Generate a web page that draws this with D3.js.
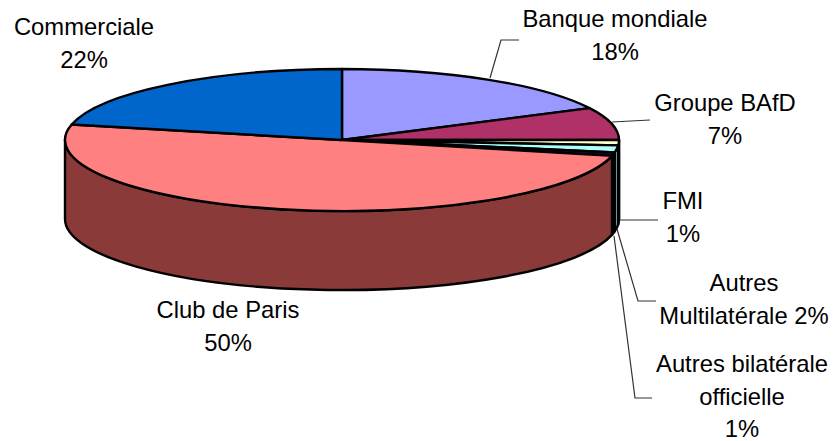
<!DOCTYPE html>
<html><head><meta charset="utf-8">
<script src="https://cdn.jsdelivr.net/npm/d3@7"></script>
<style>html,body{margin:0;padding:0;background:#fff}svg{display:block}text{font-family:"Liberation Sans",Arial,sans-serif;font-size:23.8px;fill:#000}</style>
</head><body><svg id="c" width="835" height="441"></svg>
<script>
const categories = ["Banque mondiale","Groupe BAfD","FMI","Autres Multilatérale","Autres bilatérale officielle","Club de Paris","Commerciale"];
const values = [17.6,7.4,1.2,1.6,0.8,49.9,21.5];
const topColors = ["#9999FF","#B03068","#FFFFCC","#AAFFFF","#330033","#FF8080","#0066CC"];
const sideColors = ["#555590","#6B1C40","#8C8C70","#5F9EA0","#1A001A","#8B3A3A","#003A70"];
const labelLines = [["Banque mondiale","18%"],["Groupe BAfD","7%"],["FMI","1%"],["Autres","Multilatérale 2%"],["Autres bilatérale","officielle","1%"],["Club de Paris","50%"],["Commerciale","22%"]];
const labelAnchors = [[615,27],[725,111],[683,209],[744,291],[742,372],[228,318],[84,35]];
const leaders = [[[490,78],[501,40],[519,40]],[[612,122],[650,120]],[[620,220],[658,220]],[[617,229],[638,301],[656,301]],[[614,236],[635,398],[652,398]]];

const svg = d3.select("#c");
const cx=342, cy=140, rx=277, ry=71, depth=79;
const sx = d3.scaleLinear().domain([-1,1]).range([cx-rx,cx+rx]);
const sy = d3.scaleLinear().domain([-1,1]).range([cy-ry,cy+ry]);
const px = a=>sx(Math.sin(a)), py=a=>sy(-Math.cos(a));
const arcs = d3.pie().sort(null)(values);
const H = Math.PI/2, P = Math.PI;

function sideWall(a0,a1){
  const s=Math.max(a0,H), e=Math.min(a1,3*H);
  if(e<=s) return null;
  const large = (e-s)>P?1:0;
  return `M${px(s)},${py(s)}A${rx},${ry} 0 ${large} 1 ${px(e)},${py(e)}L${px(e)},${py(e)+depth}A${rx},${ry} 0 ${large} 0 ${px(s)},${py(s)+depth}Z`;
}
function topSlice(a0,a1){
  const large=(a1-a0)>P?1:0;
  return `M${cx},${cy}L${px(a0)},${py(a0)}A${rx},${ry} 0 ${large} 1 ${px(a1)},${py(a1)}Z`;
}
svg.append("g").selectAll("path").data(arcs.filter(d=>sideWall(d.startAngle,d.endAngle)))
  .join("path").attr("d",d=>sideWall(d.startAngle,d.endAngle))
  .attr("fill",d=>sideColors[d.index]).attr("stroke","#000").attr("stroke-width",2.4).attr("stroke-linejoin","round");
svg.append("g").selectAll("path").data(arcs)
  .join("path").attr("d",d=>topSlice(d.startAngle,d.endAngle))
  .attr("fill",d=>topColors[d.index]).attr("stroke","#000").attr("stroke-width",2.4).attr("stroke-linejoin","round");

const line=d3.line();
svg.append("g").selectAll("path").data(leaders).join("path").attr("d",line).attr("fill","none").attr("stroke","#333").attr("stroke-width",1.2);

const lg=svg.append("g").selectAll("text").data(labelLines).join("text")
  .attr("text-anchor","middle").attr("x",(d,i)=>labelAnchors[i][0]).attr("y",(d,i)=>labelAnchors[i][1]);
lg.selectAll("tspan").data((d,i)=>d.map(t=>({t,i}))).join("tspan")
  .attr("x",d=>labelAnchors[d.i][0]).attr("dy",(d,j)=>j?32.5:0).text(d=>d.t);
</script></body></html>
